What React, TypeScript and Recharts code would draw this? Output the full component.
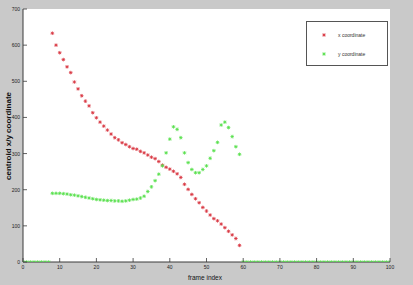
import React from "react";
import { ScatterChart, Scatter, XAxis, YAxis, CartesianGrid, Legend, Label } from "recharts";

// frames where the object was tracked
const trackedFrames = [
  8, 9, 10, 11, 12, 13, 14, 15, 16, 17, 18, 19, 20, 21, 22, 23, 24, 25, 26, 27, 28, 29, 30, 31, 32, 33,
  34, 35, 36, 37, 38, 39, 40, 41, 42, 43, 44, 45, 46, 47, 48, 49, 50, 51, 52, 53, 54, 55, 56, 57, 58, 59,
];
// frames where the coordinate is 0
const emptyFrames = [
  0, 1, 2, 3, 4, 5, 6, 7,
  60, 61, 62, 63, 64, 65, 66, 67, 68, 69, 70, 71, 72, 73, 74, 75, 76, 77, 78, 79, 80,
  81, 82, 83, 84, 85, 86, 87, 88, 89, 90, 91, 92, 93, 94, 95, 96, 97, 98, 99, 100,
];
const xCoordinate = [
  633, 600, 579, 560, 540, 524, 498, 479, 460, 445, 432, 413, 399, 387, 376, 365, 354, 344, 338, 330,
  325, 319, 314, 312, 306, 302, 296, 290, 286, 278, 268, 262, 257, 251, 244, 234, 215, 201, 187, 175,
  164, 151, 141, 130, 120, 114, 105, 95, 85, 75, 65, 46,
];
const yCoordinate = [
  190, 190, 190, 189, 188, 186, 185, 183, 181, 179, 177, 175, 173, 172, 171, 170, 170, 169, 169, 168,
  169, 171, 173, 174, 177, 182, 195, 208, 225, 243, 266, 302, 340, 374, 367, 344, 302, 275, 256, 247,
  247, 256, 266, 287, 308, 331, 379, 387, 372, 347, 319, 298,
];
const xTicks = [0, 10, 20, 30, 40, 50, 60, 70, 80, 90, 100];
const yTicks = [0, 100, 200, 300, 400, 500, 600, 700];
const seriesNames = ["x coordinate", "y coordinate"];

const RED = "#d8343f";
const GREEN = "#55e04a";

const redData = trackedFrames.map((f, i) => ({ f, v: xCoordinate[i] }));
const greenData = [
  ...emptyFrames.slice(0, 8).map((f) => ({ f, v: 0 })),
  ...trackedFrames.map((f, i) => ({ f, v: yCoordinate[i] })),
  ...emptyFrames.slice(8).map((f) => ({ f, v: 0 })),
];

const starPath = (cx: number, cy: number) =>
  `M${cx - 1.8},${cy}H${cx + 1.8}M${cx},${cy - 1.8}V${cy + 1.8}M${cx - 1.3},${cy - 1.3}L${cx + 1.3},${cy + 1.3}M${cx - 1.3},${cy + 1.3}L${cx + 1.3},${cy - 1.3}`;

const makeStar = (color: string) => (props: any) => {
  const { cx, cy } = props;
  if (cx == null || cy == null) return <g />;
  return <path d={starPath(cx, cy)} stroke={color} strokeWidth={0.8} fill="none" />;
};

const AXIS = "#3a3a3a";
const FONT = "'Liberation Sans', Arial, sans-serif";

const BottomTick = (props: any) => {
  const { x, y, payload } = props;
  return (
    <g>
      <line x1={x} y1={y} x2={x} y2={y - 4} stroke={AXIS} strokeWidth={0.8} />
      <text x={x} y={y + 7} textAnchor="middle" fontSize={5} fontFamily={FONT} fill="#222">
        {payload.value}
      </text>
    </g>
  );
};
const TopTick = (props: any) => {
  const { x, y } = props;
  return <line x1={x} y1={y} x2={x} y2={y + 4} stroke={AXIS} strokeWidth={0.8} />;
};
const LeftTick = (props: any) => {
  const { x, y, payload } = props;
  return (
    <g>
      <line x1={x} y1={y} x2={x + 4} y2={y} stroke={AXIS} strokeWidth={0.8} />
      <text x={x - 3} y={y + 2} textAnchor="end" fontSize={5} fontFamily={FONT} fill="#222">
        {payload.value}
      </text>
    </g>
  );
};
const RightTick = (props: any) => {
  const { x, y } = props;
  return <line x1={x} y1={y} x2={x - 4} y2={y} stroke={AXIS} strokeWidth={0.8} />;
};

const renderLegend = () => (
  <div
    style={{
      width: 80,
      height: 43,
      border: "1px solid #555",
      background: "#fff",
      fontFamily: FONT,
      fontSize: 5,
      color: "#333",
      position: "relative",
    }}
  >
    {seriesNames.map((name, i) => (
      <div
        key={name}
        style={{ position: "absolute", left: 0, top: 9 + i * 19, height: 8, display: "flex", alignItems: "center" }}
      >
        <svg width={30} height={8}>
          <path d={starPath(17, 4)} stroke={i === 0 ? RED : GREEN} strokeWidth={0.8} fill="none" />
        </svg>
        <span style={{ marginLeft: 1 }}>{name}</span>
      </div>
    ))}
  </div>
);

export default function App() {
  return (
    <div style={{ position: "absolute", left: 0, top: 0, width: 413, height: 285, background: "#c9c9c9" }}>
      <ScatterChart width={413} height={285} margin={{ top: 9, right: 23, bottom: 0, left: 0 }}>
        <CartesianGrid fill="#ffffff" horizontal={false} vertical={false} />
        <XAxis
          dataKey="f"
          type="number"
          domain={[0, 100]}
          ticks={xTicks}
          height={23}
          stroke={AXIS}
          tickLine={false}
          tickSize={0}
          tickMargin={0}
          tick={<BottomTick />}
          interval={0}
          allowDataOverflow
        >
          <Label
            content={() => (
              <text x={205} y={280} textAnchor="middle" fontSize={6.5} fontFamily={FONT} fill="#111">
                frame index
              </text>
            )}
          />
        </XAxis>
        <XAxis
          xAxisId="top"
          orientation="top"
          type="number"
          domain={[0, 100]}
          ticks={xTicks}
          height={0}
          stroke={AXIS}
          tickLine={false}
          tickSize={0}
          tickMargin={0}
          tick={<TopTick />}
          interval={0}
        />
        <YAxis
          dataKey="v"
          type="number"
          domain={[0, 700]}
          ticks={yTicks}
          width={23}
          stroke={AXIS}
          tickLine={false}
          tickSize={0}
          tickMargin={0}
          tick={<LeftTick />}
          interval={0}
          allowDataOverflow
        >
          <Label
            content={() => (
              <text
                x={11}
                y={136}
                transform="rotate(-90 11 136)"
                textAnchor="middle"
                fontSize={8}
                fontWeight="bold"
                fontFamily={FONT}
                fill="#111"
              >
                centroid x/y coordinate
              </text>
            )}
          />
        </YAxis>
        <YAxis
          yAxisId="right"
          orientation="right"
          type="number"
          domain={[0, 700]}
          ticks={yTicks}
          width={0}
          stroke={AXIS}
          tickLine={false}
          tickSize={0}
          tickMargin={0}
          tick={<RightTick />}
          interval={0}
        />
        <Legend
          layout="vertical"
          align="center"
          verticalAlign="middle"
          content={renderLegend}
          wrapperStyle={{ left: 306, top: 21, width: 82, height: 45 }}
        />
        <Scatter name={seriesNames[0]} data={redData} shape={makeStar(RED)} isAnimationActive={false} />
        <Scatter name={seriesNames[1]} data={greenData} shape={makeStar(GREEN)} isAnimationActive={false} />
      </ScatterChart>
    </div>
  );
}
